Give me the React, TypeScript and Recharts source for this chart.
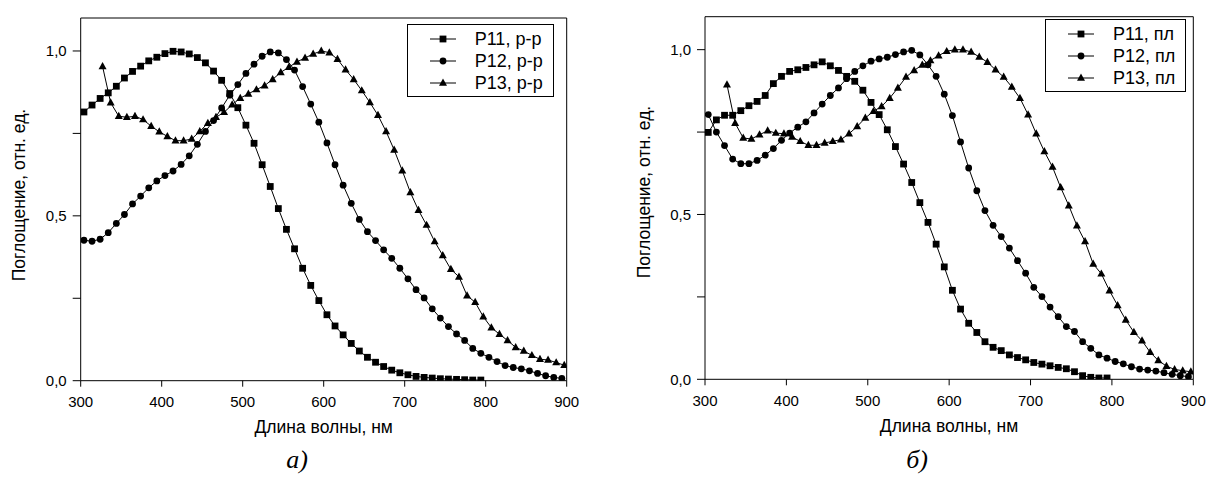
import { LineChart, Line, XAxis, YAxis, Legend } from "recharts";

// wavelength grids (nm)
const WL = [
  304, 314, 324, 334, 344, 354, 364, 374, 384, 394, 404, 414, 424, 434, 444,
  454, 464, 474, 484, 494, 504, 514, 524, 534, 544, 554, 564, 574, 584, 594,
  604, 614, 624, 634, 644, 654, 664, 674, 684, 694, 704, 714, 724, 734, 744,
  754, 764, 774, 784, 794, 804, 814, 824, 834, 844, 854, 864, 874, 884, 894,
];
const WL_TRI = [
  327, 337, 347, 357, 367, 377, 387, 397, 407, 417, 427, 437, 447, 457, 467,
  477, 487, 497, 507, 517, 527, 537, 547, 557, 567, 577, 587, 597, 607, 617,
  627, 637, 647, 657, 667, 677, 687, 697, 707, 717, 727, 737, 747, 757, 767,
  777, 787, 797, 807, 817, 827, 837, 847, 857, 867, 877, 887, 897,
];

const X_TICKS = [300, 400, 500, 600, 700, 800, 900];
const Y_TICKS = [0, 0.25, 0.5, 0.75, 1];

// а) solutions
const SOL_P11 = [
  0.815, 0.836, 0.856, 0.873, 0.893, 0.918, 0.938, 0.954, 0.97, 0.981,
  0.992, 0.999, 0.997, 0.991, 0.98, 0.964, 0.939, 0.911, 0.871, 0.828,
  0.775, 0.72, 0.655, 0.589, 0.522, 0.459, 0.4, 0.341, 0.289, 0.243,
  0.2, 0.166, 0.139, 0.113, 0.09, 0.071, 0.056, 0.043, 0.032, 0.024,
  0.018, 0.013, 0.01, 0.008, 0.006, 0.005, 0.004, 0.003, 0.002, 0.002,
];
const SOL_P12 = [
  0.426, 0.423, 0.429, 0.449, 0.477, 0.504, 0.536, 0.56, 0.585, 0.606,
  0.622, 0.636, 0.656, 0.682, 0.717, 0.756, 0.789, 0.827, 0.866, 0.898,
  0.932, 0.96, 0.984, 0.997, 0.994, 0.974, 0.942, 0.892, 0.839, 0.784,
  0.721, 0.655, 0.593, 0.538, 0.489, 0.452, 0.425, 0.397, 0.371, 0.341,
  0.309, 0.276, 0.251, 0.218, 0.19, 0.164, 0.142, 0.122, 0.098, 0.083,
  0.071, 0.058, 0.046, 0.04, 0.036, 0.03, 0.022, 0.015, 0.01, 0.007,
];
const SOL_P13 = [
  0.953, 0.843, 0.802, 0.799, 0.802, 0.792, 0.772, 0.755, 0.741, 0.728,
  0.728, 0.733, 0.756, 0.781, 0.799, 0.814, 0.837, 0.857, 0.87, 0.883,
  0.895, 0.914, 0.935, 0.951, 0.967, 0.979, 0.991, 1.0, 0.995, 0.975,
  0.943, 0.914, 0.88, 0.844, 0.805, 0.756, 0.7, 0.637, 0.571, 0.517,
  0.472, 0.422, 0.38, 0.338, 0.315, 0.258, 0.238, 0.194, 0.161, 0.141,
  0.122, 0.101, 0.09, 0.077, 0.065, 0.063, 0.055, 0.047,
];

// б) films
const FILM_P11 = [
  0.749, 0.787, 0.801, 0.801, 0.815, 0.83, 0.843, 0.861, 0.897, 0.919,
  0.934, 0.939, 0.946, 0.954, 0.963, 0.951, 0.937, 0.919, 0.904, 0.877,
  0.84, 0.803, 0.757, 0.706, 0.653, 0.597, 0.536, 0.476, 0.41, 0.341,
  0.27, 0.213, 0.17, 0.142, 0.114, 0.097, 0.087, 0.074, 0.066, 0.059,
  0.051, 0.046, 0.041, 0.036, 0.032, 0.023, 0.011, 0.006, 0.004, 0.004,
];
const FILM_P12 = [
  0.803, 0.75, 0.709, 0.668, 0.654, 0.654, 0.664, 0.68, 0.7, 0.725,
  0.747, 0.765, 0.781, 0.808, 0.835, 0.861, 0.884, 0.912, 0.934, 0.951,
  0.965, 0.972, 0.977, 0.985, 0.993, 0.998, 0.984, 0.954, 0.919, 0.865,
  0.8, 0.72, 0.641, 0.572, 0.512, 0.467, 0.433, 0.398, 0.36, 0.322,
  0.279, 0.251, 0.219, 0.19, 0.16, 0.145, 0.114, 0.094, 0.074, 0.064,
  0.054, 0.047, 0.038, 0.031, 0.028, 0.025, 0.02, 0.015, 0.011, 0.008,
];
const FILM_P13 = [
  0.894, 0.777, 0.732, 0.729, 0.742, 0.754, 0.747, 0.745, 0.735, 0.722,
  0.71, 0.71, 0.717, 0.722, 0.727, 0.745, 0.767, 0.793, 0.813, 0.828,
  0.853, 0.884, 0.917, 0.937, 0.954, 0.967, 0.982, 0.995, 1.0, 1.0,
  0.993, 0.978, 0.962, 0.939, 0.917, 0.887, 0.853, 0.803, 0.745, 0.691,
  0.644, 0.582, 0.527, 0.466, 0.418, 0.35, 0.32, 0.269, 0.224, 0.18,
  0.143, 0.117, 0.082, 0.057, 0.04, 0.03, 0.026, 0.023,
];

const NAMES_SOL = ["P11, р-р", "P12, р-р", "P13, р-р"];
const NAMES_FILM = ["P11, пл", "P12, пл", "P13, пл"];
const SHAPES = ["square", "circle", "triangle"];

const FONT = "'Liberation Sans', Arial, sans-serif";
const SERIF = "'Liberation Serif', 'Times New Roman', serif";

const pts = (xs: number[], ys: number[]) => ys.map((y, i) => ({ x: xs[i], y }));
const fmtY = (v: number) => ([0, 0.5, 1].includes(v) ? v.toFixed(1).replace(".", ",") : "");

function Marker({ shape, cx, cy }: { shape: string; cx: number; cy: number }) {
  if (shape === "square") return <rect x={cx - 3.4} y={cy - 3.4} width={6.8} height={6.8} fill="#000" />;
  if (shape === "circle") return <circle cx={cx} cy={cy} r={3.4} fill="#000" />;
  return <path d={`M${cx},${cy - 4.4}L${cx + 4},${cy + 2.8}L${cx - 4},${cy + 2.8}Z`} fill="#000" />;
}

function LegendBox({ names }: { names: string[] }) {
  return (
    <div
      style={{
        border: "1px solid #000",
        background: "#fff",
        padding: "3px 10px 2px 22px",
        fontFamily: FONT,
        fontSize: 18,
        lineHeight: "22px",
        color: "#000",
      }}
    >
      {names.map((n, i) => (
        <div key={n} style={{ display: "flex", alignItems: "center", whiteSpace: "nowrap" }}>
          <svg width={26} height={12} style={{ marginRight: 19 }}>
            <line x1={0} x2={26} y1={6} y2={6} stroke="#000" strokeWidth={1} />
            <Marker shape={SHAPES[i]} cx={13} cy={6} />
          </svg>
          {n}
        </div>
      ))}
    </div>
  );
}

type PanelProps = {
  left: number;
  margin: { top: number; right: number; bottom: number; left: number };
  names: string[];
  series: { x: number; y: number }[][];
  legendAt: { left: number; top: number };
};

function Panel({ left, margin, names, series, legendAt }: PanelProps) {
  const tickStyle = { fill: "#000", fontSize: 15, fontFamily: FONT };
  return (
    <div style={{ position: "absolute", left, top: 0 }}>
      <LineChart width={600} height={477} margin={margin}>
        <XAxis
          type="number"
          dataKey="x"
          domain={[300, 900]}
          ticks={X_TICKS}
          allowDataOverflow
          height={40}
          tickSize={6}
          tickMargin={10}
          tick={tickStyle}
          stroke="#000"
          axisLine={{ stroke: "#000" }}
          tickLine={{ stroke: "#000" }}
        />
        <XAxis
          xAxisId="top"
          orientation="top"
          type="number"
          dataKey="x"
          domain={[300, 900]}
          ticks={X_TICKS}
          height={10}
          tickSize={5}
          tick={false}
          axisLine={{ stroke: "#000" }}
          tickLine={{ stroke: "#000" }}
        />
        <YAxis
          type="number"
          domain={[0, 1.1]}
          ticks={Y_TICKS}
          allowDataOverflow
          width={50}
          tickSize={8}
          tickMargin={6}
          tickFormatter={fmtY}
          tick={tickStyle}
          axisLine={{ stroke: "#000" }}
          tickLine={{ stroke: "#000" }}
        />
        <YAxis
          yAxisId="r"
          orientation="right"
          domain={[0, 1.1]}
          width={1}
          tick={false}
          tickLine={false}
          axisLine={{ stroke: "#000" }}
        />
        {series.map((d, i) => (
          <Line
            key={names[i]}
            name={names[i]}
            data={d}
            dataKey="y"
            stroke="#000"
            strokeWidth={1}
            isAnimationActive={false}
            dot={(p: any) => <Marker key={`${i}-${p.index}`} shape={SHAPES[i]} cx={p.cx} cy={p.cy} />}
            activeDot={false}
          />
        ))}
        <Legend
          layout="vertical"
          align="center"
          verticalAlign="middle"
          wrapperStyle={{ left: legendAt.left, top: legendAt.top, width: "auto", height: "auto" }}
          content={() => <LegendBox names={names} />}
        />
      </LineChart>
    </div>
  );
}

function YTitle({ x, y }: { x: number; y: number }) {
  return (
    <div
      style={{
        position: "absolute",
        left: x,
        top: y,
        transform: "translate(-50%, -50%) rotate(-90deg)",
        whiteSpace: "nowrap",
        fontFamily: FONT,
        fontSize: 17.5,
        color: "#000",
      }}
    >
      Поглощение, отн. ед.
    </div>
  );
}

function Text({ x, y, text, serif }: { x: number; y: number; text: string; serif?: boolean }) {
  return (
    <div
      style={{
        position: "absolute",
        left: x,
        top: y,
        transform: "translate(-50%, -50%)",
        whiteSpace: "nowrap",
        fontFamily: serif ? SERIF : FONT,
        fontStyle: serif ? "italic" : "normal",
        fontSize: serif ? 26 : 17.5,
        color: "#000",
      }}
    >
      {text}
    </div>
  );
}

export default function App() {
  return (
    <div style={{ position: "absolute", left: 0, top: 0, width: 1209, height: 477, background: "#fff", overflow: "hidden" }}>
      <Panel
        left={0}
        margin={{ top: 8, right: 32.3, bottom: 56.3, left: 30.7 }}
        names={NAMES_SOL}
        series={[pts(WL, SOL_P11), pts(WL, SOL_P12), pts(WL_TRI, SOL_P13)]}
        legendAt={{ left: 406.7, top: 24.3 }}
      />
      <Panel
        left={609}
        margin={{ top: 6.7, right: 14.7, bottom: 57.7, left: 46 }}
        names={NAMES_FILM}
        series={[pts(WL, FILM_P11), pts(WL, FILM_P12), pts(WL_TRI, FILM_P13)]}
        legendAt={{ left: 436, top: 19.3 }}
      />
      <YTitle x={19} y={195} />
      <YTitle x={644} y={192} />
      <Text x={323.7} y={426.7} text="Длина волны, нм" />
      <Text x={949} y={425.5} text="Длина волны, нм" />
      <Text x={297} y={460} text="а)" serif />
      <Text x={917} y={460} text="б)" serif />
    </div>
  );
}
